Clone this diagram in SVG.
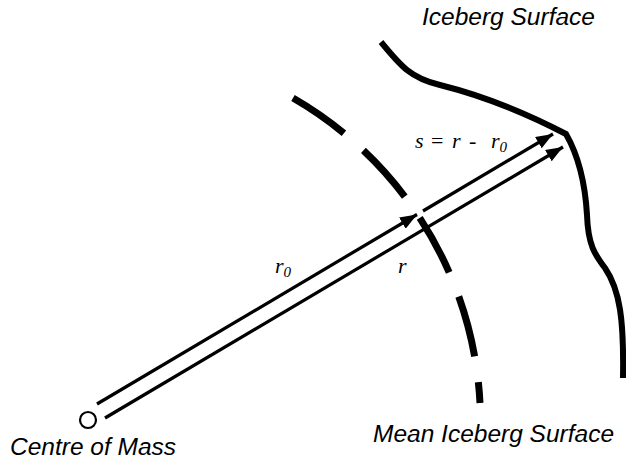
<svg xmlns="http://www.w3.org/2000/svg" width="626" height="463" viewBox="0 0 626 463">
<style>
.lbl{font-family:"Liberation Sans",Arial,sans-serif;font-style:italic;font-size:24.5px;fill:#000}
.math{font-family:"Liberation Serif","Times New Roman",serif;font-style:italic;font-size:22px;fill:#000}
.sub{font-size:15px}
.vec{stroke:#000;stroke-width:3.2;fill:none;marker-end:url(#ah)}
</style>
<defs>
<marker id="ah" markerUnits="userSpaceOnUse" markerWidth="18" markerHeight="13" refX="17" refY="6.5" orient="auto" viewBox="0 0 18 13">
<path d="M0,0 L17,6.5 L0,13 Z" fill="#000"/>
</marker>
</defs>
<rect width="626" height="463" fill="#fff"/>
<g id="iceberg-surface">
<path d="M 381 42 C 400 65, 410 78, 440 85 C 480 95, 520 110, 566 134 C 578 155, 585 180, 587 215 C 588 245, 595 255, 605 268 C 620 290, 624 320, 623 378" fill="none" stroke="#000" stroke-width="6" stroke-linejoin="miter"/>
<text class="lbl" x="422" y="25">Iceberg Surface</text>
</g>
<g id="mean-surface">
<path d="M 293 98 A 374 374 0 0 1 480 403" fill="none" stroke="#000" stroke-width="7" stroke-dasharray="62 26"/>
<text class="lbl" x="373" y="442">Mean Iceberg Surface</text>
</g>
<g id="centre-of-mass">
<circle cx="88" cy="420" r="8" fill="#fff" stroke="#000" stroke-width="2.2"/>
<text class="lbl" x="10" y="455">Centre of Mass</text>
</g>
<g id="connectors">
<line class="vec" x1="97" y1="404" x2="417" y2="214.5"/>
<line class="vec" x1="105" y1="418" x2="563" y2="147"/>
<line class="vec" x1="423" y1="211" x2="553" y2="134"/>
</g>
<g id="labels">
<text class="math" x="275" y="273">r<tspan class="sub" dy="4">0</tspan></text>
<text class="math" x="398" y="273">r</text>
<text class="math" y="148"><tspan x="415">s</tspan><tspan x="431" font-style="normal">=</tspan><tspan x="452">r</tspan><tspan x="469">-</tspan><tspan x="491">r</tspan><tspan class="sub" dy="4">0</tspan></text>
</g>
</svg>
